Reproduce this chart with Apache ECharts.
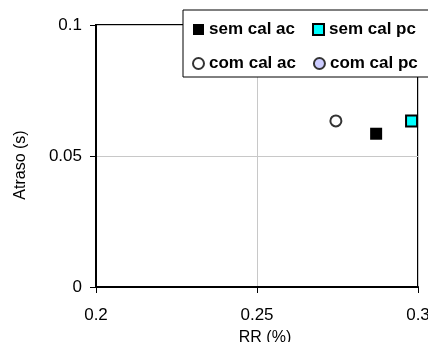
<!DOCTYPE html>
<html>
<head>
<meta charset="utf-8">
<script src="https://cdn.jsdelivr.net/npm/echarts@6/dist/echarts.min.js"></script>
<style>
  html, body { margin: 0; padding: 0; background: #fff; }
  #chart { width: 428px; height: 342px; }
</style>
</head>
<body>
<div id="chart"></div>
<script>
// Series names, in legend order
const seriesNames = ['sem cal ac', 'sem cal pc', 'com cal ac', 'com cal pc'];
// RR (%) values per series
const rrValues = [0.287, 0.298, 0.2745, 0.298];
// Atraso (s) values per series
const delayValues = [0.0585, 0.0634, 0.0634, 0.0634];
// Axis tick labels
const xTickLabels = ['0.2', '0.25', '0.3'];
const yTickLabels = ['0', '0.05', '0.1'];

const FONT = '"Liberation Sans", Arial, sans-serif';

const styles = [
  { symbol: 'rect',   color: '#000000', borderColor: '#000000', borderWidth: 0, size: 12, z: 3 },
  { symbol: 'rect',   color: '#00ffff', borderColor: '#000000', borderWidth: 2, size: 11, z: 4 },
  { symbol: 'circle', color: '#ffffff', borderColor: '#333333', borderWidth: 2, size: 11, z: 3 },
  { symbol: 'circle', color: '#ccccff', borderColor: '#333333', borderWidth: 2, size: 10, z: 2 }
];

const series = seriesNames.map((name, i) => ({
  name: name,
  type: 'scatter',
  symbol: styles[i].symbol,
  symbolSize: styles[i].size,
  z: styles[i].z,
  itemStyle: {
    color: styles[i].color,
    borderColor: styles[i].borderColor,
    borderWidth: styles[i].borderWidth,
    opacity: 1
  },
  emphasis: { disabled: true },
  data: [[rrValues[i], delayValues[i]]]
}));

function pickLabel(labels, value) {
  const idx = labels.findIndex(l => Math.abs(parseFloat(l) - value) < 1e-9);
  return idx >= 0 ? labels[idx] : '';
}

const chart = echarts.init(document.getElementById('chart'), null, { renderer: 'canvas' });
chart.setOption({
  animation: false,
  backgroundColor: '#ffffff',
  textStyle: { fontFamily: FONT },
  grid: {
    left: 96, top: 25, width: 322, height: 262,
    containLabel: false,
    outerBoundsMode: 'none',
    show: true, borderColor: '#000000', borderWidth: 2, backgroundColor: 'transparent'
  },
  legend: {
    data: seriesNames,
    left: 183, top: 10,
    width: 240,
    orient: 'horizontal',
    itemWidth: 11, itemHeight: 11,
    itemGap: 17,
    padding: [11, 40, 5, 9],
    borderColor: '#000000', borderWidth: 1,
    backgroundColor: '#ffffff',
    selectedMode: false,
    textStyle: { fontFamily: FONT, fontSize: 17, fontWeight: 'bold', color: '#000000', padding: [0, 7, 0, 0] }
  },
  xAxis: {
    type: 'value', min: 0.2, max: 0.3, interval: 0.05,
    name: 'RR (%)', nameLocation: 'middle', nameGap: 43,
    nameTextStyle: { fontFamily: FONT, fontSize: 16, color: '#000000', padding: [0, 0, 0, 16] },
    axisLine: { show: true, onZero: false, lineStyle: { color: '#000000', width: 2 } },
    axisTick: { show: true, inside: false, length: 6, lineStyle: { color: '#000000', width: 1 } },
    axisLabel: {
      margin: 20, fontFamily: FONT, fontSize: 17, color: '#000000',
      formatter: v => pickLabel(xTickLabels, v)
    },
    splitLine: { show: true, lineStyle: { color: '#c8c8c8', width: 1 } }
  },
  yAxis: {
    type: 'value', min: 0, max: 0.1, interval: 0.05,
    name: 'Atraso (s)', nameLocation: 'middle', nameGap: 67, nameRotate: 90,
    nameTextStyle: { fontFamily: FONT, fontSize: 16, color: '#000000', padding: [0, 18, 0, 0] },
    axisLine: { show: true, onZero: false, lineStyle: { color: '#000000', width: 2 } },
    axisTick: { show: true, inside: false, length: 6, lineStyle: { color: '#000000', width: 1 } },
    axisLabel: {
      margin: 14, fontFamily: FONT, fontSize: 17, color: '#000000',
      formatter: v => pickLabel(yTickLabels, v)
    },
    splitLine: { show: true, lineStyle: { color: '#c8c8c8', width: 1 } }
  },
  series: series
});
</script>
</body>
</html>
